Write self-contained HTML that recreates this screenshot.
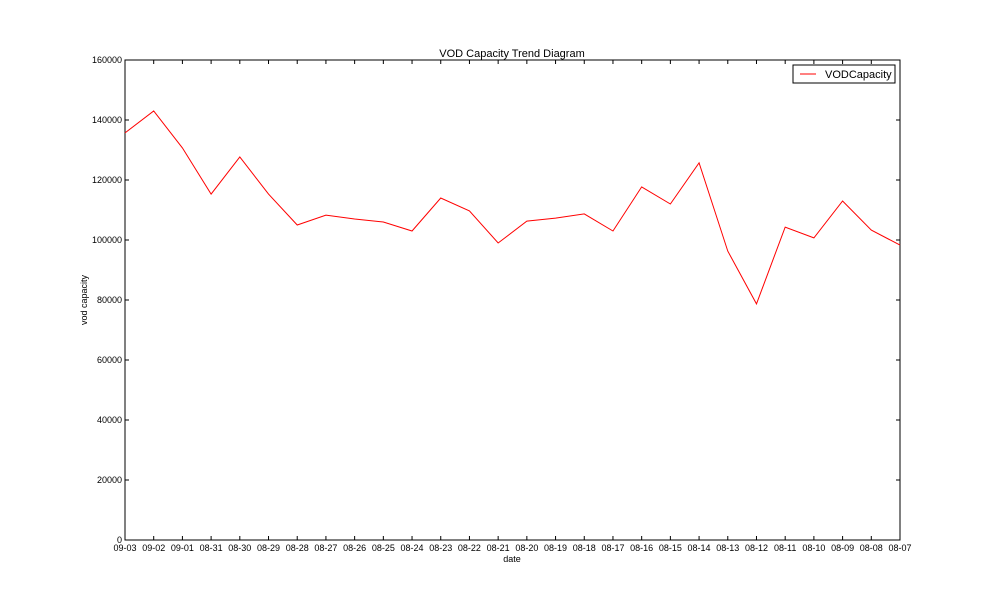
<!DOCTYPE html>
<html><head><meta charset="utf-8"><style>
body{margin:0;background:#fff;width:1000px;height:600px;overflow:hidden}
svg{font-family:"Liberation Sans",sans-serif}
</style></head><body>
<svg id="chart" width="1000" height="600" xmlns="http://www.w3.org/2000/svg"></svg>
<script>
const categories=["09-03","09-02","09-01","08-31","08-30","08-29","08-28","08-27","08-26","08-25","08-24","08-23","08-22","08-21","08-20","08-19","08-18","08-17","08-16","08-15","08-14","08-13","08-12","08-11","08-10","08-09","08-08","08-07"];
const vodCapacity=[135700,143000,130700,115300,127700,115300,105000,108300,107000,106000,103000,114000,109700,99000,106300,107300,108700,103000,117700,112000,125700,96300,78700,104300,100700,113000,103300,98300];
const yTicks=[0,20000,40000,60000,80000,100000,120000,140000,160000];
const L=125,R=900,T=60,B=540,yMax=160000;
const svg=document.getElementById('chart');
const NS='http://www.w3.org/2000/svg';
function xs(i){return L+i*(R-L)/(categories.length-1);}
function ys(v){return B-v/yMax*(B-T);}
function mk(tag,attrs,txt){const e=document.createElementNS(NS,tag);for(const k in attrs)e.setAttribute(k,attrs[k]);if(txt!==undefined)e.textContent=txt;svg.appendChild(e);return e;}
let e;
e=mk('rect',{x:L,y:T,width:R-L,height:B-T,fill:'#fff',stroke:'#000','stroke-width':1});


yTicks.forEach(v=>{const y=ys(v);
 e=mk('line',{x1:L,x2:L+4,y1:y,y2:y,stroke:'#000'});
 
 
 e=mk('line',{x1:R-4,x2:R,y1:y,y2:y,stroke:'#000'});
 
 
 e=mk('text',{x:L-3,y:y+3,'font-size':9,'text-anchor':'end'},String(v));
 
 
});
categories.forEach((c,i)=>{const x=xs(i);
 e=mk('line',{x1:x,x2:x,y1:B,y2:B-4,stroke:'#000'});
 
 
 e=mk('line',{x1:x,x2:x,y1:T,y2:T+4,stroke:'#000'});
 
 
 e=mk('text',{x:x,y:B+11,'font-size':9,'text-anchor':'middle'},c);
 
 
});
e=mk('polyline',{points:vodCapacity.map((v,i)=>xs(i)+','+ys(v)).join(' '),fill:'none',stroke:'#ff0000','stroke-width':1});


e=mk('text',{x:512,y:57,'font-size':11,'text-anchor':'middle'},'VOD Capacity Trend Diagram');


e=mk('text',{x:512,y:562,'font-size':9,'text-anchor':'middle'},'date');


e=mk('text',{x:87,y:300,'font-size':9,'text-anchor':'middle',transform:'rotate(-90 87 300)'},'vod capacity');


e=mk('rect',{x:793,y:65,width:102,height:18,fill:'#fff',stroke:'#000'});


e=mk('line',{x1:800,x2:816,y1:74,y2:74,stroke:'#ff0000'});


e=mk('text',{x:825,y:78,'font-size':11},'VODCapacity');


</script>
</body></html>
